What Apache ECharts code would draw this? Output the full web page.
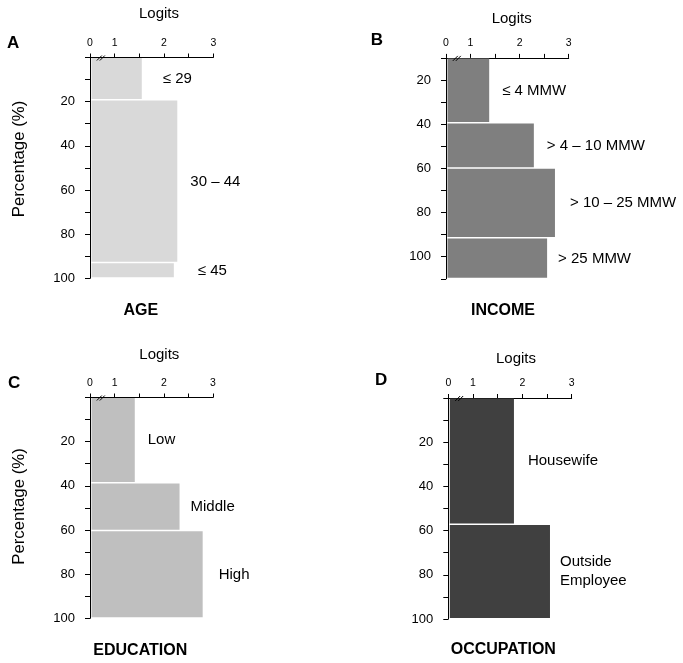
<!DOCTYPE html>
<html>
<head>
<meta charset="utf-8">
<script src="https://cdn.jsdelivr.net/npm/echarts@6/dist/echarts.min.js"></script>
<style>html,body{margin:0;padding:0;background:#fff}#c{width:683px;height:663px}</style>
</head>
<body>
<div id="c"></div>
<script>
// ---- data ----
const xTickValues = [0.5, 1, 1.5, 2, 2.5, 3];       // axis positions of logit ticks (axis broken between 0 and 1)
const xTickLabels = ['0', '1', '', '2', '', '3'];

const ageCats = ['\u2264 29', '30 \u2013 44', '\u2264 45'];
const ageStart = [0, 19.3, 93];
const ageEnd = [19.3, 93, 100];
const ageLogit = [1.55, 2.27, 2.2];

const incomeCats = ['\u2264 4 MMW', '> 4 \u2013 10 MMW', '> 10 \u2013 25 MMW', '> 25 MMW'];
const incomeStart = [10, 39.5, 60, 91.5];
const incomeEnd = [39.5, 60, 91.5, 110];
const incomeLogit = [1.38, 2.29, 2.72, 2.56];

const eduCats = ['Low', 'Middle', 'High'];
const eduStart = [0, 38.7, 60.3];
const eduEnd = [38.7, 60.3, 100];
const eduLogit = [1.41, 2.32, 2.79];

const occCats = ['Housewife', 'Outside\nEmployee'];
const occStart = [0, 57.2];
const occEnd = [57.2, 100];
const occLogit = [1.83, 2.56];

// ---- layout / style ----
const FONT = "'Liberation Sans', Arial, sans-serif";
const panels = [
  {cats: ageCats, s: ageStart, e: ageEnd, v: ageLogit, color: '#d9d9d9', grid: {left: 90, top: 57.5, width: 123.3, height: 220.8}, ymin: 0, ymax: 100, gaps: [21, 13, 24]},
  {cats: incomeCats, s: incomeStart, e: incomeEnd, v: incomeLogit, color: '#7f7f7f', grid: {left: 446, top: 57.9, width: 122.7, height: 220.9}, ymin: 10, ymax: 110, gaps: [13, 13, 15, 11]},
  {cats: eduCats, s: eduStart, e: eduEnd, v: eduLogit, color: '#bfbfbf', grid: {left: 90, top: 397.5, width: 123, height: 220.8}, ymin: 0, ymax: 100, gaps: [13, 11, 16]},
  {cats: occCats, s: occStart, e: occEnd, v: occLogit, color: '#404040', grid: {left: 448.3, top: 398, width: 123.4, height: 221}, ymin: 0, ymax: 100, gaps: [14, 10]}
];

const grids = [], xAxes = [], yAxes = [], series = [];
panels.forEach((p, i) => {
  grids.push(p.grid);
  xAxes.push({
    gridIndex: i, type: 'value', position: 'top', min: 0.5, max: 3, interval: 0.5,
    axisLine: {show: true, onZero: false, lineStyle: {color: '#000', width: 1}},
    axisTick: {show: true, length: 4, lineStyle: {color: '#000'}},
    splitLine: {show: false},
    axisLabel: {fontSize: 10.5, color: '#000', margin: 9, fontFamily: FONT,
      formatter: v => { const k = xTickValues.findIndex(t => Math.abs(t - v) < 1e-6); return k >= 0 ? xTickLabels[k] : ''; }}
  });
  yAxes.push({
    gridIndex: i, type: 'value', inverse: true, min: p.ymin, max: p.ymax, interval: 10,
    axisLine: {show: true, onZero: false, lineStyle: {color: '#000', width: 1}},
    axisTick: {show: true, length: 5, lineStyle: {color: '#000'}},
    splitLine: {show: false},
    axisLabel: {fontSize: 13, color: '#000', margin: 15, fontFamily: FONT, showMinLabel: true, showMaxLabel: true,
      formatter: v => (v > 0 && v <= 100 && v % 20 === 0) ? String(v) : ''}
  });
  const data = p.cats.map((c, k) => [p.s[k], p.e[k], p.v[k]]);
  series.push({
    type: 'custom', xAxisIndex: i, yAxisIndex: i, clip: false,
    data: data,
    encode: {x: 2, y: [0, 1]},
    renderItem: (params, api) => {
      const s = api.value(0), e = api.value(1), v = api.value(2);
      const p0 = api.coord([0.5, s]);
      const p1 = api.coord([v, e]);
      const gap = p.gaps[params.dataIndex];
      return {
        type: 'group',
        children: [
          {type: 'rect', shape: {x: p0[0] + 1.5, y: p0[1] + 0.5, width: p1[0] - p0[0] - 1.5, height: p1[1] - p0[1] - 1.5},
           style: {fill: p.color}},
          {type: 'text', x: p1[0] + gap, y: (p0[1] + p1[1]) / 2,
           style: {text: p.cats[params.dataIndex], fill: '#000', font: '15px ' + FONT, align: 'left', verticalAlign: 'middle', lineHeight: 19}}
        ]
      };
    }
  });
  // axis-break mark on the logit axis
  series.push({
    type: 'custom', xAxisIndex: i, yAxisIndex: i, clip: false, silent: true,
    data: [[0.72, p.ymin]],
    renderItem: (params, api) => {
      const c = api.coord([api.value(0), api.value(1)]);
      return {type: 'group', children: [-1.5, 1.5].map(d => ({
        type: 'line', shape: {x1: c[0] + d - 2.5, y1: c[1] + 3, x2: c[0] + d + 2.5, y2: c[1] - 2},
        style: {stroke: '#000', lineWidth: 1}}))};
    }
  });
});

function txt(text, x, y, size, bold, align) {
  return {type: 'text', x: x, y: y, style: {text: text, fill: '#000', font: (bold ? 'bold ' : '') + size + 'px ' + FONT, align: align || 'center', verticalAlign: 'middle'}};
}
const graphics = [
  txt('Logits', 159, 13.5, 15, false), txt('Logits', 511.7, 19, 15, false),
  txt('Logits', 159.3, 355, 15, false), txt('Logits', 516, 358.5, 15, false),
  txt('A', 7, 43, 17, true, 'left'), txt('B', 370.7, 40, 17, true, 'left'),
  txt('C', 8, 383, 17, true, 'left'), txt('D', 375, 380, 17, true, 'left'),
  txt('AGE', 140.8, 311, 16, true), txt('INCOME', 503, 311, 16, true),
  txt('EDUCATION', 140.3, 651, 16, true), txt('OCCUPATION', 503.3, 650, 16, true),
  Object.assign(txt('Percentage (%)', 19, 159, 16.8, false), {rotation: Math.PI / 2}),
  Object.assign(txt('Percentage (%)', 19, 506.5, 16.8, false), {rotation: Math.PI / 2})
];

const chart = echarts.init(document.getElementById('c'), null, {renderer: 'canvas'});
chart.setOption({
  animation: false,
  backgroundColor: '#fff',
  textStyle: {fontFamily: FONT},
  grid: grids, xAxis: xAxes, yAxis: yAxes, series: series,
  graphic: graphics
});
</script>
</body>
</html>
